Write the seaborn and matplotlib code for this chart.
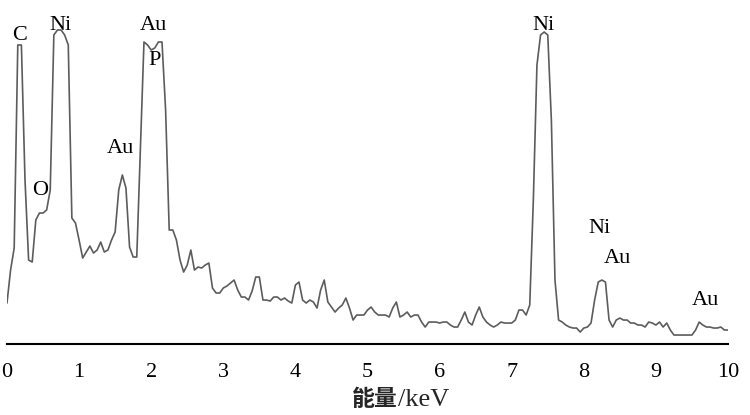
import matplotlib

matplotlib.use("Agg")

import matplotlib.pyplot as plt
import numpy as np
import pandas as pd
import seaborn as sns

# EDS spectrum, 0.05 keV channels from 0 to 10 keV (arbitrary counts)
energy_kev = np.round(np.arange(0, 201) * 0.05, 2)
counts = [
    41, 74, 96, 299, 299, 164, 84, 82, 124, 131,
    131, 134, 154, 309, 314, 314, 309, 299, 126, 121,
    104, 86, 92, 98, 91, 94, 102, 92, 94, 104,
    112, 154, 169, 156, 97, 87, 87, 194, 302, 299,
    294, 296, 302, 302, 234, 114, 114, 104, 84, 72,
    79, 94, 74, 77, 76, 79, 81, 56, 51, 51,
    56, 58, 61, 64, 54, 47, 47, 44, 53, 67,
    67, 44, 44, 43, 47, 47, 44, 46, 43, 41,
    59, 62, 44, 41, 44, 42, 36, 54, 64, 42,
    37, 32, 36, 39, 46, 36, 24, 29, 29, 29,
    34, 37, 32, 29, 29, 29, 27, 36, 42, 27,
    29, 32, 27, 29, 29, 22, 17, 22, 22, 22,
    21, 22, 22, 19, 17, 17, 24, 32, 22, 19,
    29, 37, 27, 22, 19, 17, 19, 22, 21, 21,
    21, 24, 34, 34, 29, 39, 144, 279, 309, 312,
    309, 224, 64, 24, 22, 19, 17, 16, 16, 12,
    16, 17, 21, 44, 62, 64, 62, 24, 17, 24,
    26, 24, 24, 21, 21, 19, 19, 17, 22, 21,
    19, 22, 17, 21, 14, 9, 9, 9, 9, 9,
    9, 14, 22, 19, 17, 17, 16, 16, 17, 14,
    14,
]

# peak labels: (text, energy, height)
peak_labels = ["C", "Ni", "Au", "P", "Au", "O", "Ni", "Ni", "Au", "Au"]
label_energy = [0.18, 0.74, 2.03, 2.05, 1.57, 0.46, 7.44, 8.22, 8.47, 9.68]
label_height = [309, 319, 319, 284, 196, 154, 319, 116, 86, 44]

x_ticks = list(range(0, 11))

df = pd.DataFrame({"energy": energy_kev, "counts": counts})

sns.set_theme(style="white")
plt.rcParams["font.family"] = ["Liberation Serif", "Noto Sans CJK SC"]

fig = plt.figure(figsize=(7.5, 4.15), dpi=100)
ax = fig.add_axes([0.0093, 0.171, 0.9614, 0.829])

sns.lineplot(data=df, x="energy", y="counts", ax=ax, color="#5c5c5c",
             linewidth=1.2, estimator=None)

for text, e, h in zip(peak_labels, label_energy, label_height):
    ax.text(e, h, text, ha="center", va="center", fontsize=16, color="black",
            clip_on=False)

ax.set_xlim(0, 10)
ax.set_ylim(0, 344)
ax.set_xticks(x_ticks)
ax.set_xticklabels([str(t) for t in x_ticks], fontsize=16)
ax.tick_params(axis="x", direction="in", length=6, width=1.5, colors="black", pad=14)
ax.set_yticks([])
ax.set_ylabel("")
ax.set_xlabel("")
for side in ["left", "right", "top"]:
    ax.spines[side].set_visible(False)
ax.spines["bottom"].set_color("black")
ax.spines["bottom"].set_linewidth(1.5)

# axis title: bold CJK part followed by serif unit
fig.text(0.5307, 0.0217, "能量", ha="right", va="baseline", fontsize=16.5,
         family="Noto Sans CJK SC", fontweight="bold")
fig.text(0.5307, 0.0217, "/keV", ha="left", va="baseline", fontsize=19,
         family="Liberation Serif")

fig.savefig("out.png", dpi=100, facecolor="white")
plt.close(fig)
